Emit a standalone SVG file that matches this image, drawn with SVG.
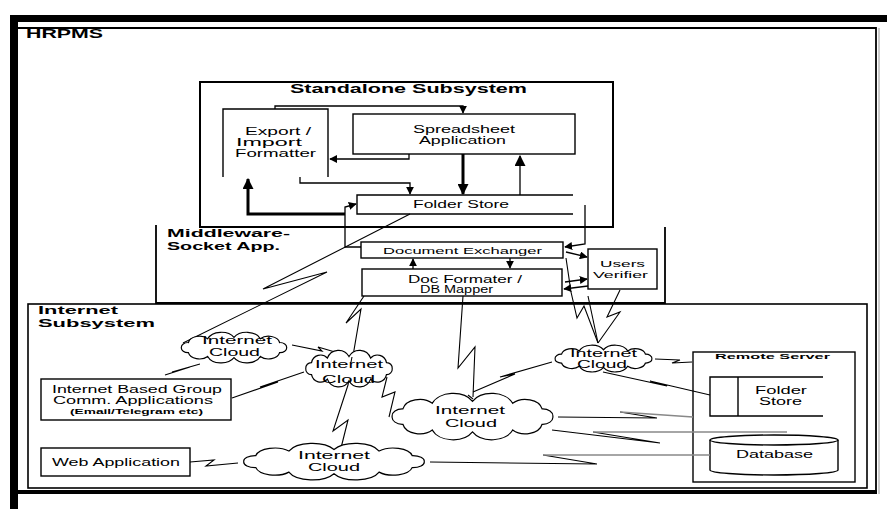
<svg xmlns="http://www.w3.org/2000/svg" width="887" height="509" viewBox="0 0 887 509">
<style>
text{font-family:"Liberation Sans",Arial,sans-serif;fill:#000}
.t{font-size:10px}
.s{font-size:9px}
.b{font-weight:bold;font-size:12px}
.bm{font-weight:bold;font-size:11px}
.bs{font-weight:bold;font-size:7.5px}
.box{fill:#fff;stroke:#000;stroke-width:1.4}
.open{fill:#fff;stroke:#000;stroke-width:1.4}
.frame{fill:none;stroke:#000;stroke-width:1.8}
.ln{fill:none;stroke:#000;stroke-width:1.3}
.thk{fill:none;stroke:#000;stroke-width:3}
.lt{fill:none;stroke:#000;stroke-width:1.1}
.gr{fill:none;stroke:#888;stroke-width:1.3}
.cl{fill:#fff;stroke:#000;stroke-width:1.2}
</style>
<defs>
<marker id="a" viewBox="0 0 10 10" refX="9" refY="5" markerWidth="8" markerHeight="8" markerUnits="userSpaceOnUse" orient="auto"><path d="M0,0L10,5L0,10z"/></marker>
<marker id="A" viewBox="0 0 10 10" refX="9" refY="5" markerWidth="11" markerHeight="11" markerUnits="userSpaceOnUse" orient="auto"><path d="M0,0L10,5L0,10z"/></marker>
<path id="cloud" vector-effect="non-scaling-stroke" d="M3,20 A6,6 0 0 1 9.3,13.5 A10,10 0 0 1 26.5,8.7 A13,13 0 0 1 50,7 A13,13 0 0 1 73.5,8.7 A10,10 0 0 1 90.7,13.5 A6,6 0 0 1 97,20 A6,6 0 0 1 90.7,26.5 A10,10 0 0 1 73.5,31.3 A13,13 0 0 1 50,33 A13,13 0 0 1 26.5,31.3 A10,10 0 0 1 9.3,26.5 A6,6 0 0 1 3,20 Z"/>
</defs>
<rect width="887" height="509" fill="#fff"/>

<g id="hrpms">
<rect x="10" y="15" width="877" height="7" fill="#000"/>
<rect x="10" y="15" width="8" height="494" fill="#000"/>
<path class="frame" d="M18,28 H876 V492"/>
<line x1="879" y1="28" x2="879" y2="494" stroke="#999" stroke-width="1"/>
<rect x="18" y="490" width="859" height="4" fill="#000"/>
<text class="b" x="26" y="38" textLength="77" lengthAdjust="spacingAndGlyphs">HRPMS</text>
</g>

<g id="internet-subsystem">
<rect x="28" y="304" width="839" height="184" fill="none" stroke="#000" stroke-width="1.6"/>
<text class="bm" x="38" y="314" textLength="80" lengthAdjust="spacingAndGlyphs">Internet</text>
<text class="bm" x="38" y="327" textLength="117" lengthAdjust="spacingAndGlyphs">Subsystem</text>
</g>

<g id="middleware">
<path class="frame" d="M156,225 V303 H665 V227"/>
<text class="bm" x="167" y="237" textLength="123" lengthAdjust="spacingAndGlyphs">Middleware-</text>
<text class="bm" x="167" y="250" textLength="113" lengthAdjust="spacingAndGlyphs">Socket App.</text>
</g>

<g id="standalone">
<rect x="200" y="82" width="413" height="145" fill="#fff" stroke="#000" stroke-width="2"/>
<text class="b" x="290" y="93" textLength="237" lengthAdjust="spacingAndGlyphs">Standalone Subsystem</text>
</g>

<g id="export-import">
<path class="open" d="M223,177 V109 H328 V177"/>
<text class="t" x="245" y="135" textLength="66" lengthAdjust="spacingAndGlyphs">Export /</text>
<text class="t" x="236" y="146" textLength="66" lengthAdjust="spacingAndGlyphs">Import</text>
<text class="t" x="235" y="157" textLength="81" lengthAdjust="spacingAndGlyphs">Formatter</text>
</g>

<g id="spreadsheet">
<rect class="box" x="353" y="114" width="222" height="40"/>
<text class="t" x="413" y="133" textLength="102" lengthAdjust="spacingAndGlyphs">Spreadsheet</text>
<text class="t" x="419" y="144" textLength="87" lengthAdjust="spacingAndGlyphs">Application</text>
</g>

<g id="folder-store">
<path class="open" d="M573,195 H357 V214 H573"/>
<text class="t" x="413" y="208" textLength="96" lengthAdjust="spacingAndGlyphs">Folder Store</text>
</g>

<g id="document-exchanger">
<rect class="box" x="361" y="242" width="202" height="16"/>
<text class="s" x="383" y="254" textLength="159" lengthAdjust="spacingAndGlyphs">Document Exchanger</text>
</g>

<g id="doc-formater">
<rect class="box" x="362" y="269" width="200" height="27"/>
<text class="t" x="408" y="283" textLength="114" lengthAdjust="spacingAndGlyphs">Doc Formater /</text>
<text class="t" x="420" y="293" textLength="73" lengthAdjust="spacingAndGlyphs">DB Mapper</text>
</g>

<g id="users-verifier">
<rect class="box" x="588" y="249" width="69" height="40"/>
<text class="s" x="600" y="267" textLength="45" lengthAdjust="spacingAndGlyphs">Users</text>
<text class="s" x="593" y="278" textLength="55" lengthAdjust="spacingAndGlyphs">Verifier</text>
</g>

<g id="group-apps">
<rect class="box" x="41" y="379" width="190" height="41"/>
<text class="t" x="52" y="393" textLength="170" lengthAdjust="spacingAndGlyphs">Internet Based Group</text>
<text class="t" x="53" y="404" textLength="160" lengthAdjust="spacingAndGlyphs">Comm. Applications</text>
<text class="bs" x="70" y="414" textLength="133" lengthAdjust="spacingAndGlyphs">(Email/Telegram etc)</text>
</g>

<g id="web-app">
<rect class="box" x="41" y="448" width="149" height="28"/>
<text class="t" x="52" y="466" textLength="128" lengthAdjust="spacingAndGlyphs">Web Application</text>
</g>

<g id="remote-server">
<rect class="box" x="693" y="352" width="162" height="130"/>
<text class="bs" x="715" y="359" textLength="115" lengthAdjust="spacingAndGlyphs">Remote Server</text>
<path class="open" d="M823,377 H710 V416 H823 M738,377 V416"/>
<text class="t" x="755" y="394" textLength="52" lengthAdjust="spacingAndGlyphs">Folder</text>
<text class="t" x="759" y="405" textLength="43" lengthAdjust="spacingAndGlyphs">Store</text>
<path class="box" d="M710,440 V470 A64,5 0 0 0 838,470 V440"/>
<ellipse cx="774" cy="440" rx="64" ry="5" class="box"/>
<text class="t" x="736" y="458" textLength="77" lengthAdjust="spacingAndGlyphs">Database</text>
</g>

<g id="connectors">
<path class="ln" d="M275,109 V106 H463 V113" marker-end="url(#a)"/>
<path class="ln" d="M409,154 V159 H330" marker-end="url(#a)"/>
<path class="ln" d="M300,177 V183 H410 V194" marker-end="url(#a)"/>
<path class="thk" d="M463,154 V194" marker-end="url(#A)"/>
<path class="ln" stroke-width="2" d="M520,195 V156" marker-end="url(#A)"/>
<path class="thk" d="M345,214 H248 V179" marker-end="url(#A)"/>
<path class="ln" stroke-width="2" d="M361,247 H345 V207 L356,204" marker-end="url(#a)"/>
<path class="ln" d="M585,205 V244 L565,247" marker-end="url(#a)"/>
<path class="ln" d="M566,252 L587,257" marker-end="url(#a)"/>
<path class="ln" d="M565,282 L587,279" marker-end="url(#a)"/>
<path class="ln" d="M588,286 L564,289" marker-end="url(#a)"/>
<path class="ln" d="M413,269 V259" marker-end="url(#a)"/>
<path class="ln" d="M510,258 V268" marker-end="url(#a)"/>
<path class="lt" d="M410,214 L263,289 L327,272 L183,343"/>
<path class="lt" d="M364,296 L346,323 L361,309 L348,385 L333,431 L348,420 L340,452"/>
<path class="lt" d="M463,296 L458,368 L475,347 L473,397"/>
<path class="lt" d="M387,377 L382,397 L395,392 L389,417"/>
<path class="lt" d="M473,392 L515,374 L500,377 L552,362"/>
<path class="lt" d="M292,345 L322,351 L318,347 L352,357"/>
<path class="lt" d="M200,364 L172,372 L190,367 L165,375"/>
<path class="lt" d="M232,398 L278,382 L260,387 L304,372"/>
<path class="lt" d="M190,462 L214,460 L206,466 L238,463"/>
<path class="lt" d="M430,462 L597,464 L543,455"/>
<path class="gr" d="M543,455 L710,455"/>
<path class="lt" d="M558,417 L657,418 L620,412"/>
<path class="gr" d="M620,412 L693,417"/>
<path class="lt" d="M552,430 L660,443 L593,432"/>
<path class="gr" d="M593,432 L787,432"/>
<path class="lt" d="M655,359 L680,360 L672,363 L692,362"/>
<path class="lt" d="M603,372 L667,386 L650,381 L710,395"/>
<path class="lt" d="M566,258 L571,292 L577,318 L584,306 L598,343"/>
<path class="lt" d="M588,296 L598,343"/>
<path class="lt" d="M620,290 L607,317 L620,312 L598,343"/>
</g>

<g id="cloud1">
<use href="#cloud" class="cl" transform="translate(178,332) scale(1.12,0.78)"/>
<text class="t" x="202" y="344" textLength="70" lengthAdjust="spacingAndGlyphs">Internet</text>
<text class="t" x="209" y="356" textLength="51" lengthAdjust="spacingAndGlyphs">Cloud</text>
</g>
<g id="cloud2">
<use href="#cloud" class="cl" transform="translate(303,350) scale(0.92,0.93)"/>
<text class="t" x="315" y="368" textLength="68" lengthAdjust="spacingAndGlyphs">Internet</text>
<text class="t" x="322" y="383" textLength="53" lengthAdjust="spacingAndGlyphs">Cloud</text>
</g>
<g id="cloud3">
<use href="#cloud" class="cl" transform="translate(387,393) scale(1.71,1.18)"/>
<text class="t" x="435" y="414" textLength="70" lengthAdjust="spacingAndGlyphs">Internet</text>
<text class="t" x="445" y="427" textLength="52" lengthAdjust="spacingAndGlyphs">Cloud</text>
</g>
<g id="cloud4">
<use href="#cloud" class="cl" transform="translate(238,443) scale(1.92,0.93)"/>
<text class="t" x="298" y="459" textLength="72" lengthAdjust="spacingAndGlyphs">Internet</text>
<text class="t" x="308" y="471" textLength="52" lengthAdjust="spacingAndGlyphs">Cloud</text>
</g>
<g id="cloud5">
<use href="#cloud" class="cl" transform="translate(552,345) scale(1.03,0.68)"/>
<text class="t" x="570" y="357" textLength="67" lengthAdjust="spacingAndGlyphs">Internet</text>
<text class="t" x="577" y="368" textLength="50" lengthAdjust="spacingAndGlyphs">Cloud</text>
</g>
<g id="cloud-overlays">
<path class="lt" d="M352,357 L351,362"/>
<path class="lt" d="M468,395 L473,399"/>
</g>
</svg>
